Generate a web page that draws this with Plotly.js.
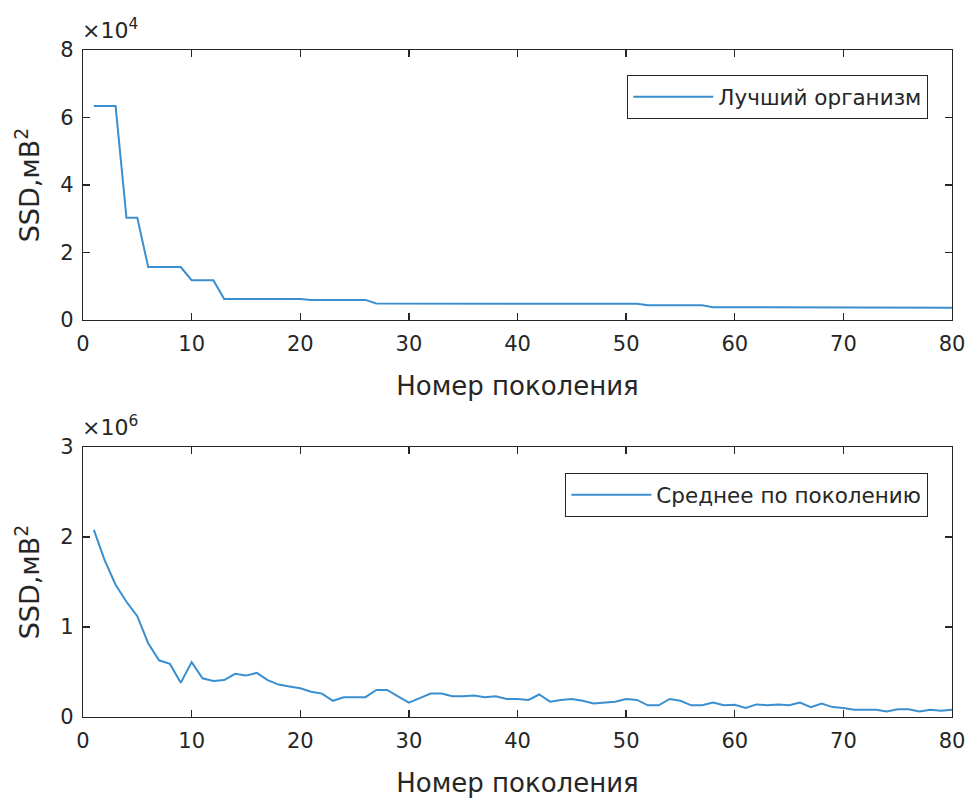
<!DOCTYPE html>
<html>
<head>
<meta charset="utf-8">
<script src="https://cdn.plot.ly/plotly-3.0.1.min.js"></script>
<style>html,body{margin:0;padding:0;background:#fff;}#chart{width:969px;height:802px;}</style>
</head>
<body>
<div id="chart"></div>
<script>
// Generation numbers
const generations = Array.from({length: 80}, (_, i) => i + 1);

// Best organism SSD (mV^2), generations 1..80
const bestSSD = [
  63400, 63400, 63400, 30300, 30300, 15700, 15700, 15700, 15700, 11800,
  11800, 11800, 6200, 6200, 6200, 6200, 6200, 6200, 6200, 6200,
  5950, 5950, 5950, 5950, 5950, 5950, 4900, 4900, 4900, 4900,
  4900, 4900, 4900, 4900, 4900, 4900, 4900, 4900, 4900, 4900,
  4900, 4900, 4900, 4900, 4900, 4900, 4900, 4900, 4900, 4900,
  4800, 4400, 4400, 4400, 4400, 4400, 4400, 3800, 3800, 3800,
  3800, 3800, 3600, 3600, 3600, 3600, 3600, 3600, 3600, 3600,
  3600, 3600, 3600, 3600, 3600, 3600, 3600, 3600, 3600, 3600
];

// Mean SSD per generation (mV^2), generations 1..80
const meanSSD = [
  2080000, 1740000, 1470000, 1280000, 1120000, 820000, 630000, 590000, 380000, 610000,
  430000, 400000, 410000, 480000, 460000, 490000, 410000, 360000, 340000, 320000,
  280000, 260000, 180000, 220000, 220000, 220000, 300000, 300000, 230000, 160000,
  210000, 260000, 260000, 230000, 230000, 240000, 220000, 230000, 200000, 200000,
  190000, 250000, 170000, 190000, 200000, 180000, 150000, 160000, 170000, 200000,
  190000, 130000, 130000, 200000, 180000, 130000, 130000, 160000, 130000, 135000,
  100000, 140000, 130000, 140000, 130000, 160000, 110000, 150000, 110000, 100000,
  80000, 80000, 80000, 60000, 85000, 85000, 60000, 80000, 70000, 80000
];

const xTicks = [0, 10, 20, 30, 40, 50, 60, 70, 80];
const yTopTicks = [0, 20000, 40000, 60000, 80000];
const yTopLabels = ['0', '2', '4', '6', '8'];
const yBotTicks = [0, 1000000, 2000000, 3000000];
const yBotLabels = ['0', '1', '2', '3'];

const legendTop = 'Лучший организм';
const legendBot = 'Среднее по поколению';
const xTitle = 'Номер поколения';
const yTitle = 'SSD,мВ<sup>2</sup>';

const W = 969, H = 802;
const txt = '#262626';
const lineColor = '#3a8fd0';
const fontFam = 'DejaVu Sans, Liberation Sans, Arial, sans-serif';

const xDom = [83 / W, 952 / W];
const yTopDom = [(H - 320) / H, (H - 50) / H];
const yBotDom = [(H - 717) / H, (H - 447) / H];

const axisCommon = {
  showgrid: false, zeroline: false, showline: true, linecolor: txt, linewidth: 1.3,
  mirror: 'ticks', ticks: 'inside', ticklen: 7, tickwidth: 1.3, tickcolor: txt,
  tickfont: {family: fontFam, size: 21, color: txt}, automargin: false, fixedrange: true
};

const traces = [
  {x: generations, y: bestSSD, type: 'scatter', mode: 'lines', name: legendTop,
   line: {color: lineColor, width: 2}, xaxis: 'x', yaxis: 'y', legend: 'legend'},
  {x: generations, y: meanSSD, type: 'scatter', mode: 'lines', name: legendBot,
   line: {color: lineColor, width: 2}, xaxis: 'x2', yaxis: 'y2', legend: 'legend2'}
];

const titleFont = {family: fontFam, size: 26, color: txt};
const yTitleFont = {family: fontFam, size: 27, color: txt};

const legendCommon = {xanchor: 'right', yanchor: 'top', bgcolor: '#fff',
  bordercolor: txt, borderwidth: 1.3, font: {family: fontFam, size: 21.5, color: txt}, itemwidth: 80};

const layout = {
  width: W, height: H,
  margin: {l: 0, r: 0, t: 0, b: 0},
  paper_bgcolor: '#fff', plot_bgcolor: '#fff',
  showlegend: true,
  xaxis: Object.assign({}, axisCommon, {domain: xDom, anchor: 'y', range: [0, 80], tickvals: xTicks,
    ticklabelstandoff: 4, title: {text: xTitle, font: titleFont, standoff: 22}}),
  yaxis: Object.assign({}, axisCommon, {domain: yTopDom, anchor: 'x', range: [0, 80000],
    ticklabelstandoff: 4, tickvals: yTopTicks, ticktext: yTopLabels,
    title: {text: yTitle, font: yTitleFont, standoff: 12}}),
  xaxis2: Object.assign({}, axisCommon, {domain: xDom, anchor: 'y2', range: [0, 80], tickvals: xTicks,
    ticklabelstandoff: 4, title: {text: xTitle, font: titleFont, standoff: 22}}),
  yaxis2: Object.assign({}, axisCommon, {domain: yBotDom, anchor: 'x2', range: [0, 3000000],
    ticklabelstandoff: 4, tickvals: yBotTicks, ticktext: yBotLabels,
    title: {text: yTitle, font: yTitleFont, standoff: 12}}),
  legend: Object.assign({}, legendCommon, {x: 928 / W, y: (H - 75) / H}),
  legend2: Object.assign({}, legendCommon, {x: 928 / W, y: (H - 473) / H}),
  annotations: [
    {xref: 'paper', yref: 'paper', x: 80 / W, y: (H - 45) / H, xanchor: 'left', yanchor: 'bottom',
     text: '×10<sup>4</sup>', showarrow: false, font: {family: fontFam, size: 22, color: txt}},
    {xref: 'paper', yref: 'paper', x: 80 / W, y: (H - 442) / H, xanchor: 'left', yanchor: 'bottom',
     text: '×10<sup>6</sup>', showarrow: false, font: {family: fontFam, size: 22, color: txt}}
  ]
};

Plotly.newPlot('chart', traces, layout, {displayModeBar: false, staticPlot: true});
</script>
</body>
</html>
